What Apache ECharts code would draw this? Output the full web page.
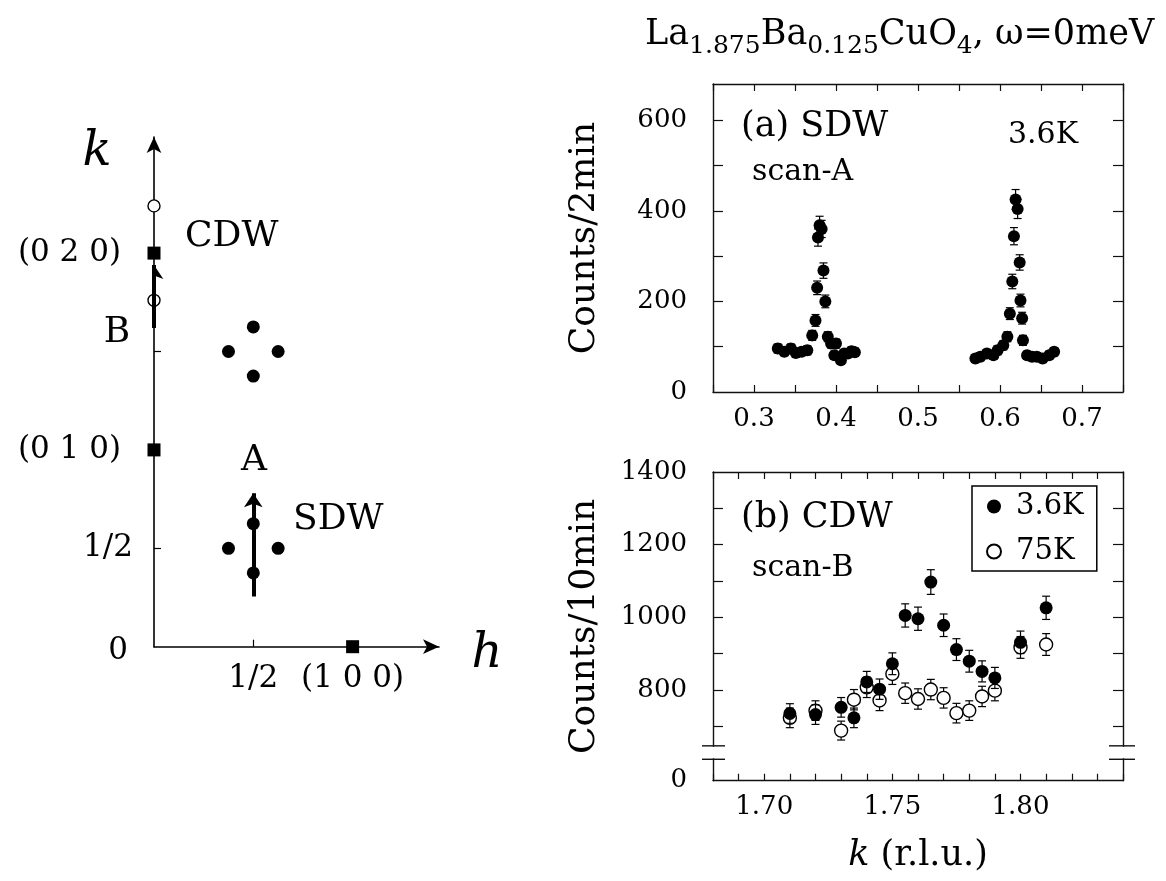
<!DOCTYPE html>
<html><head><meta charset="utf-8">
<script src="https://cdn.jsdelivr.net/npm/echarts@6/dist/echarts.min.js"></script>
<style>html,body{margin:0;padding:0;background:#fff}#c{width:1166px;height:881px}</style>
</head><body><div id="c"></div>
<script>
const FONT = '"DejaVu Serif", "Liberation Serif", serif';

// ---------- schematic (reciprocal space) ----------
const braggPeaks = [[0, 1], [0, 2], [1, 0]];
const sdwPeaks = [[0.375, 0.5], [0.625, 0.5], [0.5, 0.375], [0.5, 0.625],
                  [0.375, 1.5], [0.625, 1.5], [0.5, 1.375], [0.5, 1.625]];
const cdwPeaks = [[0, 1.76], [0, 2.24]];
const scanA_path = [[0.5, 0.255], [0.5, 0.78]];
const scanB_path = [[0, 1.62], [0, 1.94]];
const kTickValues = [0.5, 1.5];
const kLabelValues = [0, 0.5, 1, 2];
const kLabelTexts = ['0', '1/2', '(0 1 0)', '(0 2 0)'];
const hTickValues = [0.5];
const hLabelValues = [0.5, 1];
const hLabelTexts = ['1/2', '(1 0 0)'];

// ---------- (a) SDW scan-A, 3.6K ----------
const scanA_k = [0.329,0.337,0.345,0.351,0.358,0.365,0.371,0.375,0.377,0.378,0.380,0.3825,0.3847,0.387,0.390,0.394,0.398,0.400,0.406,0.410,0.4145,0.419,0.423,
                 0.570,0.576,0.584,0.592,0.597,0.604,0.609,0.612,0.615,0.617,0.619,0.6215,0.624,0.625,0.627,0.628,0.633,0.639,0.645,0.652,0.660,0.666];
const scanA_counts = [96,89,96,86,89,92,125,158,230,341,368,360,268,200,122,107,81,107,70,85,85,90,88,
                      74,78,85,81,92,103,122,173,244,344,425,404,286,202,163,114,81,78,78,74,81,89];
const scanA_err = [10,9,10,9,9,10,11,13,15,19,20,19,17,14,11,10,9,10,8,9,9,10,9,
                   9,9,9,9,10,10,11,13,16,19,22,21,17,14,13,11,9,9,9,9,9,9];
const aXLabels = [0.3, 0.4, 0.5, 0.6, 0.7];
const aYTicks = [100, 200, 300, 400, 500, 600];
const aYLabels = [0, 200, 400, 600];

// ---------- (b) CDW scan-B ----------
const scanB_k = [1.71,1.72,1.73,1.735,1.74,1.745,1.75,1.755,1.76,1.765,1.77,1.775,1.78,1.785,1.79,1.80,1.81];
const cdw_3p6K = [735,732,752,723,822,802,872,1005,996,1097,978,911,879,851,833,931,1026];
const cdw_3p6K_err = [27,27,27,27,29,28,30,32,32,34,31,30,30,29,29,31,32];
const cdw_75K = [723,743,688,773,807,771,844,791,775,801,778,736,743,782,798,917,925];
const cdw_75K_err = [27,27,26,28,28,28,29,28,28,28,28,27,27,28,28,30,30];
const bXLabels = [1.70, 1.75, 1.80];
const bYTicks = [700, 800, 900, 1000, 1100, 1200, 1300];
const BREAK_FLOOR = 550;            // axis bottom, shown as "0" (broken axis)
const bYLabels = [BREAK_FLOOR, 800, 1000, 1200, 1400];
const BREAK_MARKS = [609, 646];     // where the axis break is drawn

const chart = echarts.init(document.getElementById('c'), null, {renderer: 'canvas'});

function errItem(params, api) {
  const x = api.value(0), y = api.value(1), e = api.value(2);
  const p1 = api.coord([x, y + e]), p2 = api.coord([x, y - e]);
  const c = 4, st = {stroke: '#000', lineWidth: 1.2};
  return {type: 'group', children: [
    {type: 'line', shape: {x1: p1[0], y1: p1[1], x2: p2[0], y2: p2[1]}, style: st},
    {type: 'line', shape: {x1: p1[0] - c, y1: p1[1], x2: p1[0] + c, y2: p1[1]}, style: st},
    {type: 'line', shape: {x1: p2[0] - c, y1: p2[1], x2: p2[0] + c, y2: p2[1]}, style: st}
  ]};
}

const axisLineStyle = {show: true, onZero: false, lineStyle: {color: '#111', width: 1.4}};
const tickStyle = {lineStyle: {color: '#111', width: 1.2}};
const labelStyle = {color: '#000', fontSize: 26, fontFamily: FONT};

function frameX(gi, min, max, interval, labels, fmt, name) {
  return [
    {type: 'value', gridIndex: gi, position: 'bottom', min, max, interval,
     axisLine: axisLineStyle, splitLine: {show: false},
     axisTick: Object.assign({show: true, inside: true, length: 7}, tickStyle),
     axisLabel: Object.assign({show: true, margin: 14, customValues: labels, formatter: fmt}, labelStyle),
     name: name || '', nameLocation: 'middle', nameGap: 58,
     nameTextStyle: {color: '#000', fontSize: 35, fontFamily: FONT,
       rich: {i: {fontStyle: 'italic', fontSize: 35, fontFamily: FONT, color: '#000'}}}},
    {type: 'value', gridIndex: gi, position: 'top', min, max, interval,
     axisLine: axisLineStyle, splitLine: {show: false},
     axisTick: Object.assign({show: true, inside: true, length: 7}, tickStyle),
     axisLabel: {show: false}}
  ];
}
function frameY(gi, min, max, ticks, labels, fmt, name) {
  return [
    {type: 'value', gridIndex: gi, position: 'left', min, max,
     axisLine: axisLineStyle, splitLine: {show: false},
     axisTick: Object.assign({show: true, inside: true, length: 10, customValues: ticks}, tickStyle),
     axisLabel: Object.assign({show: true, margin: 26, customValues: labels, formatter: fmt}, labelStyle),
     name, nameLocation: 'middle', nameRotate: 90, nameGap: 110,
     nameTextStyle: {color: '#000', fontSize: 36, fontFamily: FONT}},
    {type: 'value', gridIndex: gi, position: 'right', min, max,
     axisLine: axisLineStyle, splitLine: {show: false},
     axisTick: Object.assign({show: true, inside: true, length: 10, customValues: ticks}, tickStyle),
     axisLabel: {show: false}}
  ];
}

const schemLine = {show: true, onZero: false, symbol: ['none', 'arrow'], symbolSize: [11, 16],
                   lineStyle: {color: '#000', width: 1.6}};

const option = {
  animation: false,
  backgroundColor: '#fff',
  textStyle: {fontFamily: FONT},
  title: {
    left: 640, top: 6,
    text: '{m|La}{s|1.875}{m|Ba}{s|0.125}{m|CuO}{s|4}{m|, ω=0meV}',
    textStyle: {fontWeight: 'normal', rich: {
      m: {fontSize: 35, fontWeight: 'normal', fontFamily: FONT, color: '#000', lineHeight: 48, verticalAlign: 'middle'},
      s: {fontSize: 25, fontWeight: 'normal', fontFamily: FONT, color: '#000', lineHeight: 48, verticalAlign: 'bottom'}
    }}
  },
  legend: {
    data: [{name: '3.6K', icon: 'circle'}, {name: '75K', icon: 'circle'}],
    orient: 'vertical', left: 972, top: 486,
    borderColor: '#000', borderWidth: 1.5, padding: [6, 13, 5, 14],
    itemWidth: 14, itemHeight: 14, itemGap: 16,
    textStyle: {fontSize: 29, fontFamily: FONT, color: '#000', padding: [0, 0, 0, 10]}
  },
  grid: [
    {left: 154, top: 137, width: 285, height: 509.7},
    {left: 713, top: 84, width: 410, height: 308},
    {left: 713, top: 472, width: 410, height: 308.7}
  ],
  xAxis: [
    {type: 'value', gridIndex: 0, min: 0, max: 1.435, axisLine: schemLine,
     splitLine: {show: false},
     axisTick: {show: true, inside: true, length: 7, customValues: hTickValues, lineStyle: {color: '#000', width: 1.2}},
     axisLabel: {show: true, margin: 17, customValues: hLabelValues, color: '#000', fontSize: 31, fontFamily: FONT,
       formatter: v => hLabelTexts[hLabelValues.indexOf(v)]}},
    ...frameX(1, 0.25, 0.75, 0.05, aXLabels, v => v.toFixed(1)),
    ...frameX(2, 1.68, 1.84, 0.01, bXLabels, v => v.toFixed(2), '{i|k} (r.l.u.)')
  ],
  yAxis: [
    {type: 'value', gridIndex: 0, min: 0, max: 2.59, axisLine: schemLine,
     splitLine: {show: false},
     axisTick: {show: true, inside: true, length: 7, customValues: kTickValues, lineStyle: {color: '#000', width: 1.2}},
     axisLabel: {show: true, margin: 21, customValues: kLabelValues, color: '#000', fontSize: 31, fontFamily: FONT,
       formatter: v => {
         const t = kLabelTexts[kLabelValues.indexOf(v)];
         if (t.length > 3) return '{w|' + t + '}';
         if (t === '0') return '{z|0}';
         return t;
       },
       rich: {w: {padding: [0, 12, 0, 0], fontSize: 31, fontFamily: FONT, color: '#000'},
              z: {padding: [8, 5, 0, 0], fontSize: 31, fontFamily: FONT, color: '#000'}}}},
    ...frameY(1, 0, 680, aYTicks, aYLabels, v => String(v), 'Counts/2min'),
    ...frameY(2, BREAK_FLOOR, 1400, bYTicks, bYLabels, v => v === BREAK_FLOOR ? '0' : String(v), 'Counts/10min')
  ],
  series: [
    // schematic
    {type: 'scatter', xAxisIndex: 0, yAxisIndex: 0, data: cdwPeaks, symbol: 'circle', symbolSize: 12, z: 2,
     itemStyle: {color: '#fff', borderColor: '#000', borderWidth: 1.4, opacity: 1}},
    {type: 'lines', coordinateSystem: 'cartesian2d', xAxisIndex: 0, yAxisIndex: 0, z: 3,
     data: [{coords: scanA_path}, {coords: scanB_path}],
     symbol: ['none', 'arrow'], symbolSize: 14,
     lineStyle: {color: '#000', width: 4, opacity: 1}},
    {type: 'scatter', xAxisIndex: 0, yAxisIndex: 0, data: sdwPeaks, symbol: 'circle', symbolSize: 13, z: 4,
     itemStyle: {color: '#000', opacity: 1}},
    {type: 'scatter', xAxisIndex: 0, yAxisIndex: 0, data: braggPeaks, symbol: 'rect', symbolSize: 13, z: 4,
     itemStyle: {color: '#000', opacity: 1}},
    // panel (a)
    {type: 'custom', xAxisIndex: 1, yAxisIndex: 1, renderItem: errItem, encode: {x: 0, y: 1}, z: 2,
     data: scanA_k.map((k, i) => [k, scanA_counts[i], scanA_err[i]])},
    {type: 'scatter', xAxisIndex: 1, yAxisIndex: 1, symbolSize: 12, z: 3, itemStyle: {color: '#000', opacity: 1},
     data: scanA_k.map((k, i) => [k, scanA_counts[i]])},
    // panel (b)
    {type: 'custom', xAxisIndex: 3, yAxisIndex: 3, renderItem: errItem, encode: {x: 0, y: 1}, z: 2,
     data: scanB_k.map((k, i) => [k, cdw_75K[i], cdw_75K_err[i]])},
    {type: 'scatter', name: '75K', xAxisIndex: 3, yAxisIndex: 3, symbolSize: 13, z: 3,
     itemStyle: {color: '#fff', borderColor: '#000', borderWidth: 1.4, opacity: 1},
     data: scanB_k.map((k, i) => [k, cdw_75K[i]])},
    {type: 'custom', xAxisIndex: 3, yAxisIndex: 3, renderItem: errItem, encode: {x: 0, y: 1}, z: 4,
     data: scanB_k.map((k, i) => [k, cdw_3p6K[i], cdw_3p6K_err[i]])},
    {type: 'scatter', name: '3.6K', xAxisIndex: 3, yAxisIndex: 3, symbolSize: 13, z: 5,
     itemStyle: {color: '#000', opacity: 1},
     data: scanB_k.map((k, i) => [k, cdw_3p6K[i]])}
  ]
};
chart.setOption(option);

function txt(text, x, y, size, opts) {
  return {type: 'text', z: 50, style: Object.assign({text, x, y, fontSize: size, fontFamily: FONT,
    fill: '#000', align: 'left', verticalAlign: 'middle'}, opts || {})};
}
const yB0 = chart.convertToPixel({yAxisIndex: 3}, BREAK_MARKS[0]);
const yB1 = chart.convertToPixel({yAxisIndex: 3}, BREAK_MARKS[1]);
const xL = chart.convertToPixel({xAxisIndex: 3}, 1.68);
const xR = chart.convertToPixel({xAxisIndex: 3}, 1.84);
const brk = {stroke: '#111', lineWidth: 1.4};
chart.setOption({graphic: [
  txt('k', 97, 153, 48, {align: 'center', fontStyle: 'italic'}),
  txt('h', 487, 655, 48, {align: 'center', fontStyle: 'italic'}),
  txt('CDW', 185, 237, 36),
  txt('B', 117, 333, 36, {align: 'center'}),
  txt('A', 254, 461, 36, {align: 'center'}),
  txt('SDW', 293, 520, 36),
  txt('(a) SDW', 741, 127, 35),
  txt('scan-A', 752, 172, 30),
  txt('3.6K', 1008, 135, 30),
  txt('(b) CDW', 741, 518, 35),
  txt('scan-B', 752, 568, 30),
  {type: 'rect', z: 40, shape: {x: xL - 5, y: yB1 + 1, width: 10, height: yB0 - yB1 - 2}, style: {fill: '#fff'}},
  {type: 'rect', z: 40, shape: {x: xR - 5, y: yB1 + 1, width: 10, height: yB0 - yB1 - 2}, style: {fill: '#fff'}},
  {type: 'line', z: 41, shape: {x1: xL - 11, y1: yB0, x2: xL + 12, y2: yB0}, style: brk},
  {type: 'line', z: 41, shape: {x1: xL - 11, y1: yB1, x2: xL + 12, y2: yB1}, style: brk},
  {type: 'line', z: 41, shape: {x1: xR - 14, y1: yB0, x2: xR + 12, y2: yB0}, style: brk},
  {type: 'line', z: 41, shape: {x1: xR - 14, y1: yB1, x2: xR + 12, y2: yB1}, style: brk}
]});
</script></body></html>
